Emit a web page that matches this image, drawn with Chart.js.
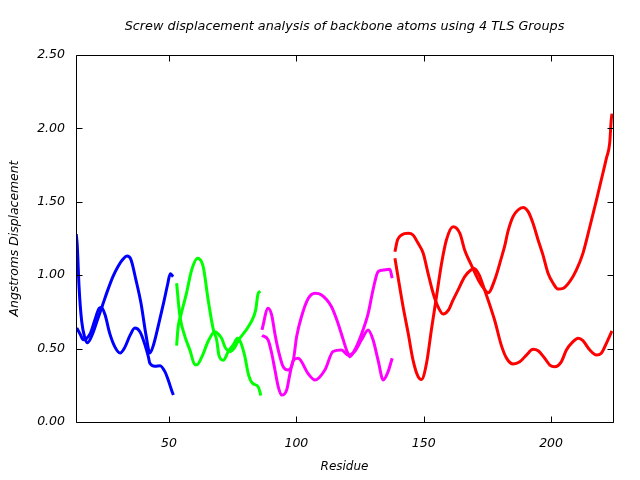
<!DOCTYPE html>
<html>
<head>
<meta charset="utf-8">
<script src="https://cdn.jsdelivr.net/npm/chart.js@4.4.1/dist/chart.umd.min.js"></script>
<style>
  html, body { margin: 0; padding: 0; background: #fff; }
  canvas { display: block; }
</style>
</head>
<body>
<canvas id="c" width="640" height="480"></canvas>
<script>
// ---- Data ----
const titleText = "Screw displacement analysis of backbone atoms using 4 TLS Groups";
const xTitle = "Residue";
const yTitle = "Angstroms Displacement";
const xTickValues = [50, 100, 150, 200];
const yTickValues = [0, 0.5, 1.0, 1.5, 2.0, 2.5];

// TLS group 1 (blue)
const blueRes1  = [13.6, 14.0, 14.7, 15.7, 17.0, 18.0, 20.0, 22.0, 24.0, 26.0, 28.0, 30.0, 32.0, 33.5, 35.0, 37.0, 39.0, 41.0, 42.5, 44.0, 46.0, 48.0, 49.5, 50.5, 51.6];
const blueDisp1 = [1.28, 1.20, 0.92, 0.69, 0.57, 0.54, 0.60, 0.70, 0.80, 0.90, 0.99, 1.06, 1.11, 1.13, 1.11, 0.97, 0.81, 0.59, 0.47, 0.53, 0.67, 0.82, 0.94, 1.01, 0.99];
const blueRes2  = [13.8, 15.1, 16.4, 19.0, 20.9, 22.6, 23.5, 24.9, 26.8, 28.8, 30.8, 32.7, 34.7, 36.6, 38.6, 40.6, 41.9, 42.5, 44.5, 46.5, 48.4, 49.7, 51.0, 51.7];
const blueDisp2 = [0.64, 0.60, 0.56, 0.60, 0.695, 0.775, 0.78, 0.73, 0.60, 0.51, 0.47, 0.51, 0.59, 0.64, 0.615, 0.525, 0.445, 0.40, 0.38, 0.384, 0.343, 0.286, 0.218, 0.184];

// TLS group 2 (green)
const greenRes1  = [53.0, 54.3, 56.3, 58.2, 60.2, 60.9, 62.8, 65.4, 68.0, 69.3, 70.7, 72.0, 74.0, 75.9, 77.4, 79.8, 82.2, 84.0, 85.0, 85.9];
const greenDisp1 = [0.945, 0.72, 0.58, 0.49, 0.39, 0.39, 0.44, 0.55, 0.615, 0.60, 0.57, 0.51, 0.48, 0.51, 0.56, 0.615, 0.68, 0.76, 0.875, 0.89];
const greenRes2  = [53.0, 53.6, 54.7, 56.9, 58.9, 61.2, 63.4, 65.4, 67.4, 68.7, 69.6, 71.3, 73.3, 75.2, 76.9, 78.2, 79.8, 81.1, 82.7, 85.0, 86.1];
const greenDisp2 = [0.52, 0.65, 0.73, 0.88, 1.035, 1.115, 1.06, 0.83, 0.63, 0.56, 0.455, 0.42, 0.48, 0.525, 0.57, 0.54, 0.445, 0.33, 0.265, 0.24, 0.18];

// TLS group 3 (magenta)
const magRes1  = [86.5, 88.9, 90.3, 91.6, 92.9, 94.8, 96.8, 98.8, 100.1, 102.0, 104.6, 107.3, 109.9, 113.8, 116.4, 118.4, 119.7, 121.0, 122.9, 125.6, 128.2, 130.1, 132.1, 134.1, 136.7, 137.6];
const magDisp1 = [0.627, 0.775, 0.73, 0.60, 0.49, 0.377, 0.354, 0.42, 0.58, 0.717, 0.84, 0.877, 0.865, 0.785, 0.67, 0.56, 0.49, 0.445, 0.49, 0.60, 0.74, 0.90, 1.024, 1.035, 1.04, 0.98];
const magRes2  = [86.5, 88.9, 90.3, 91.6, 92.9, 94.2, 96.2, 97.5, 98.8, 100.7, 104.6, 107.3, 111.2, 114.4, 117.7, 120.3, 122.9, 125.6, 128.2, 130.1, 132.1, 134.1, 136.0, 137.6];
const magDisp2 = [0.59, 0.56, 0.47, 0.354, 0.24, 0.184, 0.218, 0.33, 0.42, 0.434, 0.33, 0.286, 0.354, 0.48, 0.49, 0.456, 0.48, 0.56, 0.627, 0.56, 0.42, 0.286, 0.343, 0.434];

// TLS group 4 (red)
const redRes1  = [138.7, 139.7, 141.3, 143.9, 145.8, 147.8, 149.8, 151.7, 153.7, 155.6, 157.6, 159.6, 161.5, 163.5, 166.1, 168.5, 169.8, 171.8, 173.5, 175.3, 177.9, 180.5, 182.5, 185.1, 187.7, 190.3, 192.9, 194.9, 197.5, 199.5, 201.4, 204.0, 206.0, 208.6, 210.6, 212.5, 215.2, 217.8, 219.7, 221.7, 223.9];
const redDisp1 = [1.16, 1.24, 1.274, 1.285, 1.274, 1.217, 1.15, 1.013, 0.877, 0.785, 0.735, 0.76, 0.83, 0.90, 0.99, 1.035, 1.045, 1.0, 0.92, 0.83, 0.69, 0.52, 0.435, 0.395, 0.41, 0.456, 0.495, 0.486, 0.434, 0.388, 0.377, 0.41, 0.49, 0.547, 0.57, 0.554, 0.49, 0.456, 0.468, 0.536, 0.62];
const redRes2  = [138.7, 139.9, 141.9, 143.9, 145.8, 147.8, 149.1, 151.1, 153.0, 155.0, 157.0, 158.9, 161.5, 164.2, 166.1, 168.1, 170.0, 172.0, 174.0, 175.3, 177.9, 180.5, 181.8, 183.1, 185.1, 187.0, 189.0, 191.0, 192.9, 194.9, 196.8, 198.8, 200.8, 202.7, 204.7, 207.3, 209.9, 212.5, 215.2, 217.8, 219.7, 221.7, 223.0, 223.6, 223.9];
const redDisp2 = [1.115, 0.99, 0.785, 0.604, 0.422, 0.309, 0.29, 0.40, 0.627, 0.854, 1.08, 1.24, 1.33, 1.285, 1.17, 1.09, 1.02, 0.95, 0.90, 0.88, 0.97, 1.12, 1.20, 1.30, 1.40, 1.444, 1.462, 1.433, 1.354, 1.24, 1.138, 1.013, 0.945, 0.906, 0.91, 0.956, 1.035, 1.149, 1.33, 1.512, 1.649, 1.796, 1.90, 2.057, 2.10];

const seriesColors = ['#0000ff', '#0000ff', '#00ff00', '#00ff00', '#ff00ff', '#ff00ff', '#ff0000', '#ff0000'];

// ---- Build datasets ----
function pts(xs, ys) { return xs.map((x, i) => ({ x: x, y: ys[i] })); }
const seriesData = [
  pts(blueRes1, blueDisp1), pts(blueRes2, blueDisp2),
  pts(greenRes1, greenDisp1), pts(greenRes2, greenDisp2),
  pts(magRes1, magDisp1), pts(magRes2, magDisp2),
  pts(redRes1, redDisp1), pts(redRes2, redDisp2)
];
const datasets = seriesData.map((d, i) => ({
  data: d,
  borderColor: seriesColors[i],
  backgroundColor: seriesColors[i],
  borderWidth: 3,
  pointRadius: 0,
  fill: false,
  cubicInterpolationMode: 'monotone'
}));

const FAMILY = "'DejaVu Sans', sans-serif";
const FONT = { family: FAMILY, size: 12, style: 'italic', lineHeight: 1.2 };
const TICKFONT = { family: FAMILY, size: 12.5, style: 'italic', lineHeight: 1.2 };

// frame with inward ticks (gnuplot style) + title centred over the plot area
const framePlugin = {
  id: 'frame',
  afterDatasetsDraw(chart) {
    const { ctx, chartArea, scales } = chart;
    const L = Math.round(chartArea.left) + 0.5, R = Math.round(chartArea.right) + 0.5;
    const T = Math.round(chartArea.top) + 0.5, B = Math.round(chartArea.bottom) + 0.5;
    const tl = 6;
    ctx.save();
    ctx.strokeStyle = '#000';
    ctx.lineWidth = 1;
    ctx.beginPath();
    ctx.rect(L, T, R - L, B - T);
    xTickValues.forEach(v => {
      const px = Math.round(scales.x.getPixelForValue(v)) + 0.5;
      ctx.moveTo(px, B); ctx.lineTo(px, B - tl);
      ctx.moveTo(px, T); ctx.lineTo(px, T + tl);
    });
    yTickValues.forEach(v => {
      const py = Math.round(scales.y.getPixelForValue(v)) + 0.5;
      ctx.moveTo(L, py); ctx.lineTo(L + tl, py);
      ctx.moveTo(R, py); ctx.lineTo(R - tl, py);
    });
    ctx.stroke();
    // title
    ctx.fillStyle = '#000';
    ctx.font = "italic 12.8px " + FAMILY;
    ctx.textAlign = 'center';
    ctx.textBaseline = 'middle';
    ctx.fillText(titleText, (chartArea.left + chartArea.right) / 2, 27);
    ctx.restore();
  }
};

new Chart(document.getElementById('c'), {
  type: 'line',
  data: { datasets: datasets },
  options: {
    responsive: false,
    animation: false,
    devicePixelRatio: 1,
    layout: { padding: { left: 0, right: 27, top: 55, bottom: 0 } },
    plugins: {
      legend: { display: false },
      tooltip: { enabled: false },
      title: { display: false }
    },
    scales: {
      x: {
        type: 'linear',
        min: 13.5,
        max: 224.3,
        grid: { display: false, drawTicks: false },
        border: { display: false },
        afterBuildTicks: s => { s.ticks = xTickValues.map(v => ({ value: v })); },
        afterFit: s => { s.height = 58; },
        ticks: {
          color: '#000',
          font: TICKFONT,
          padding: 14,
          maxRotation: 0,
          autoSkip: false,
          callback: v => String(v)
        },
        title: {
          display: true,
          text: xTitle,
          color: '#000',
          font: FONT,
          padding: { top: 0, bottom: 6 }
        }
      },
      y: {
        type: 'linear',
        min: 0,
        max: 2.5,
        grid: { display: false, drawTicks: false },
        border: { display: false },
        afterBuildTicks: s => { s.ticks = yTickValues.map(v => ({ value: v })); },
        afterFit: s => { s.width = 76; },
        ticks: {
          color: '#000',
          font: TICKFONT,
          padding: 11,
          autoSkip: false,
          callback: v => Number(v).toFixed(2)
        },
        title: {
          display: true,
          text: yTitle,
          color: '#000',
          font: { family: FAMILY, size: 12.4, style: 'italic', lineHeight: 1.2 },
          padding: { top: 7, bottom: 0 }
        }
      }
    }
  },
  plugins: [framePlugin]
});
</script>
</body>
</html>
